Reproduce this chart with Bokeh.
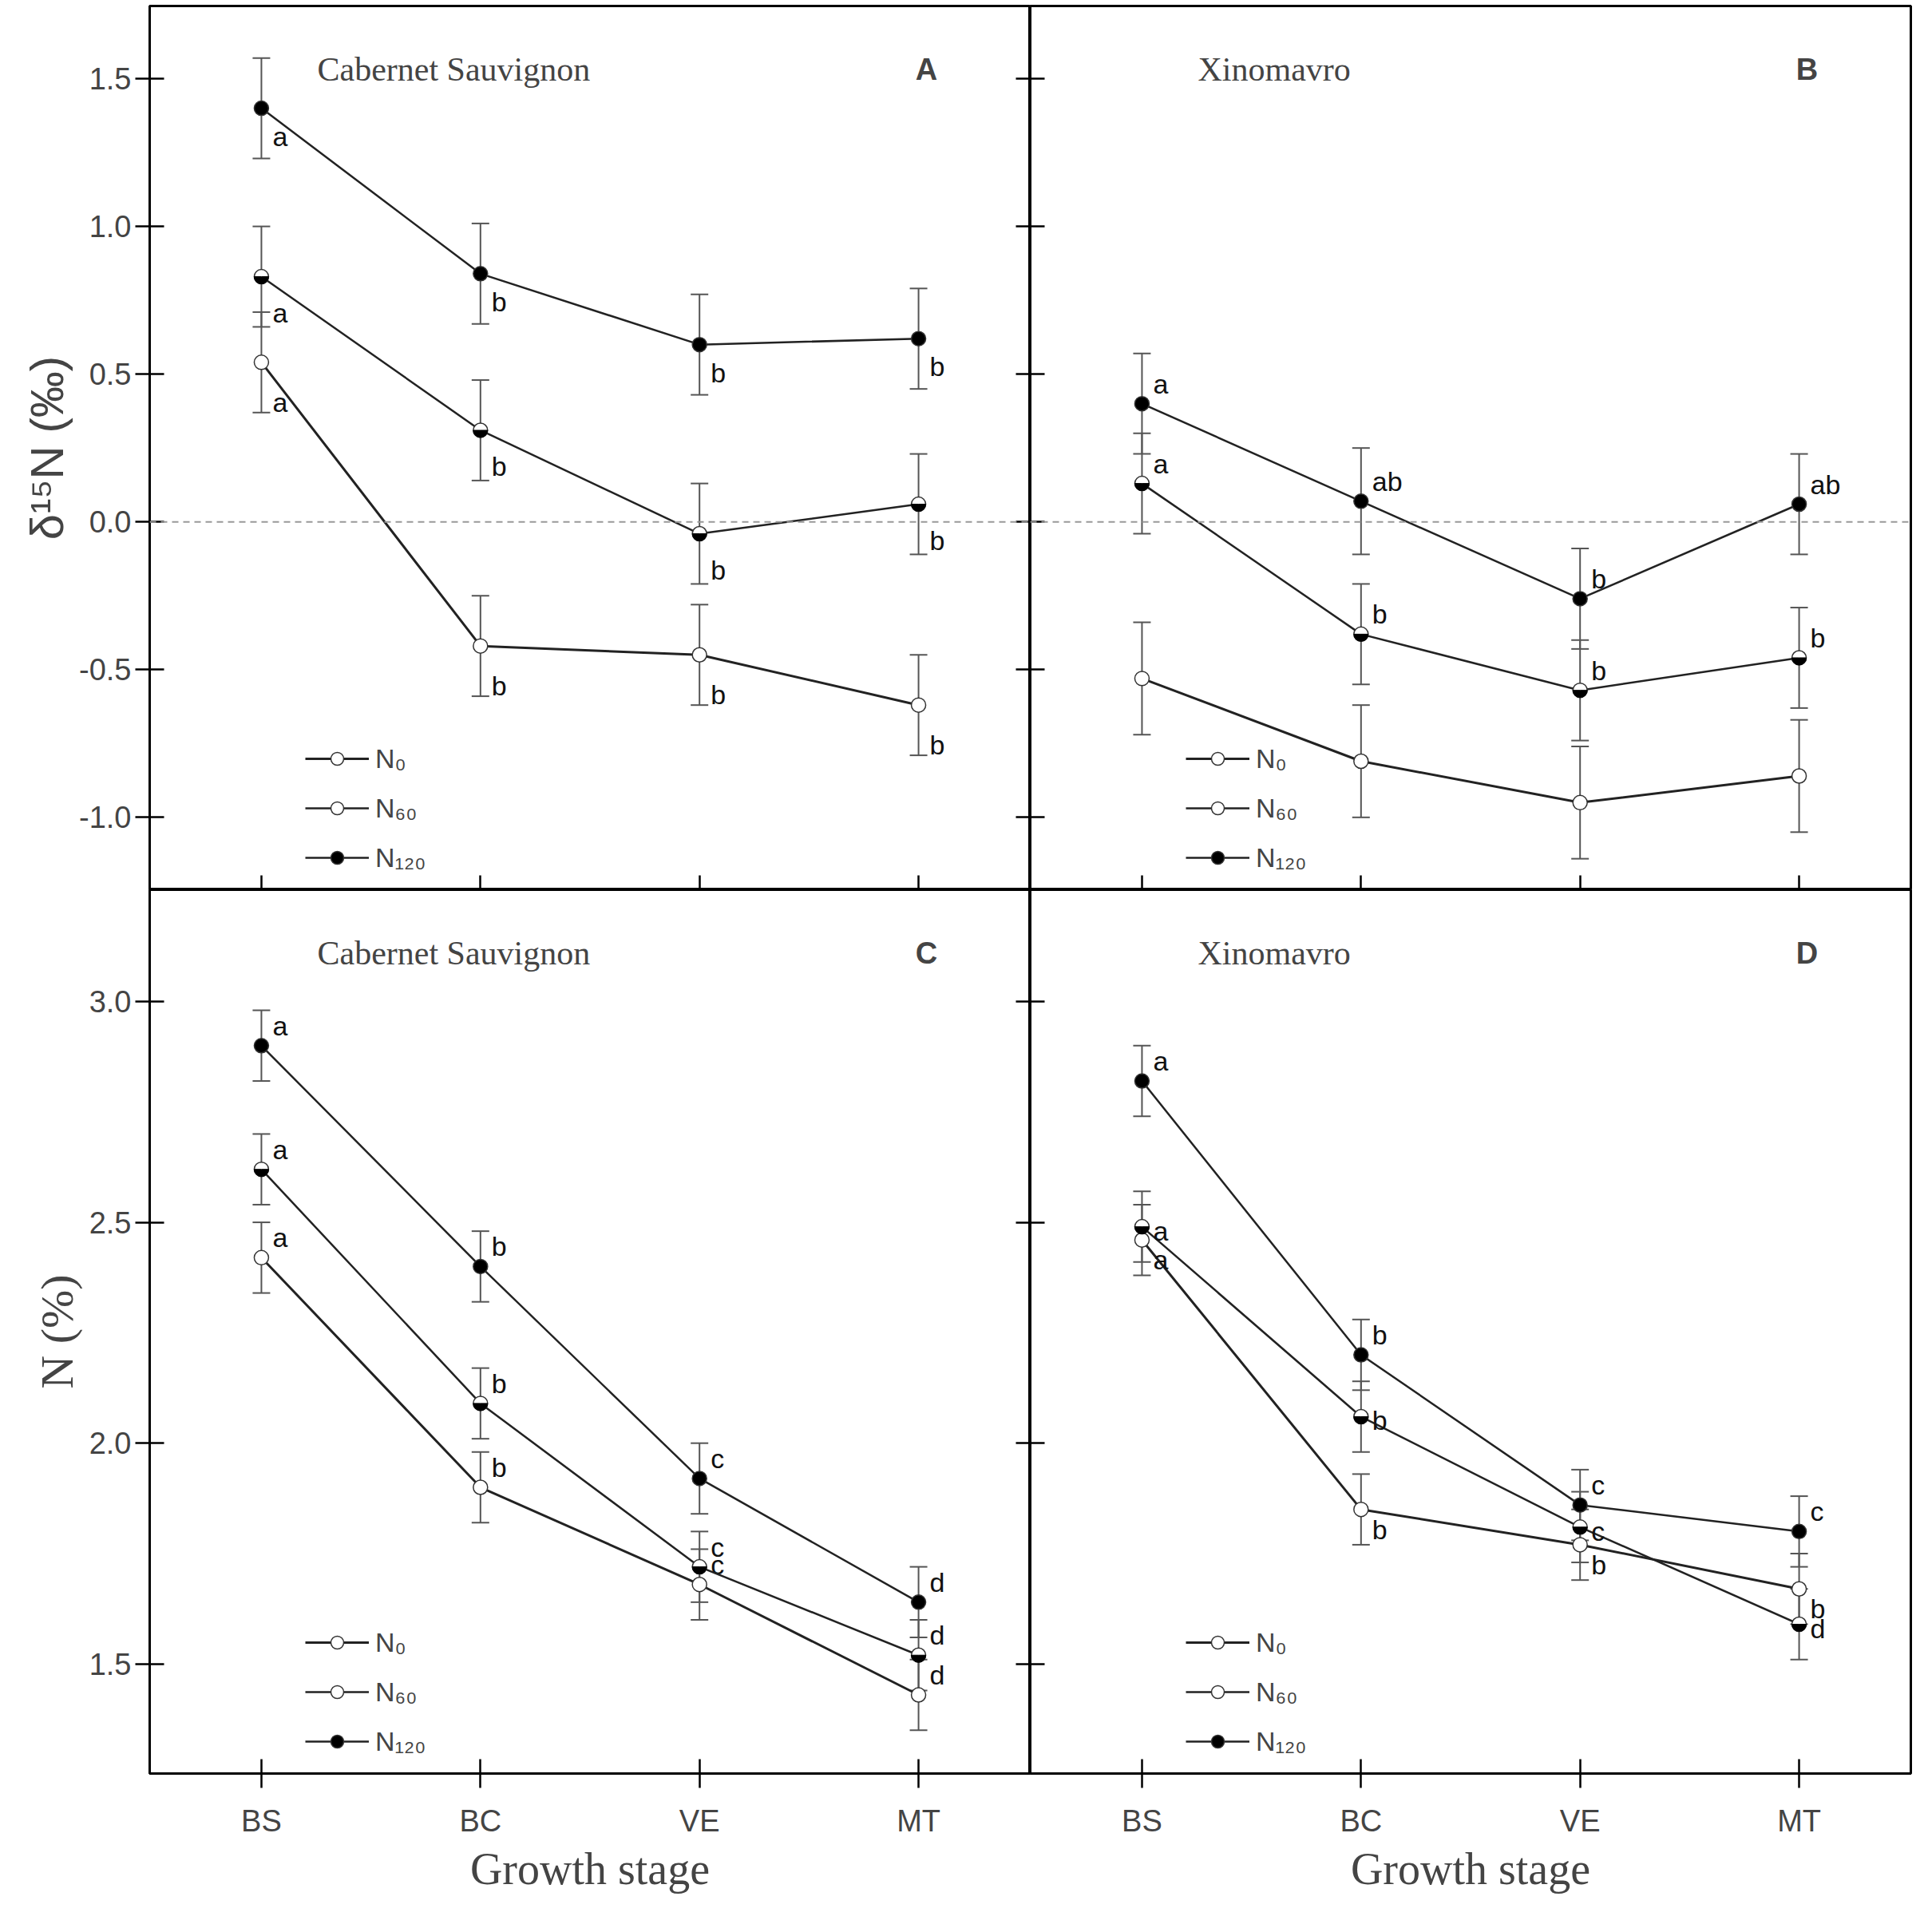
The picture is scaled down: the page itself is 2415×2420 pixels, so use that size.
from bokeh.plotting import figure
from bokeh.layouts import gridplot
from bokeh.models import (ColumnDataSource, Whisker, Span, Label, Legend, LegendItem,
                          LinearAxis, FixedTicker, NumeralTickFormatter, Range1d)
from bokeh.embed import file_html
from bokeh.resources import INLINE

stages = ["BS", "BC", "VE", "MT"]
xs = [1, 2, 3, 4]

A_N0 = [0.54, -0.42, -0.45, -0.62]; A_N60 = [0.83, 0.31, -0.04, 0.06]; A_N120 = [1.40, 0.84, 0.60, 0.62]
A_err = [[0.17]*4, [0.17]*4, [0.17]*4]
B_N0 = [-0.53, -0.81, -0.95, -0.86]; B_N60 = [0.13, -0.38, -0.57, -0.46]; B_N120 = [0.40, 0.07, -0.26, 0.06]
B_err = [[0.19]*4, [0.17]*4, [0.17, 0.18, 0.17, 0.17]]
C_N0 = [2.42, 1.90, 1.68, 1.43]; C_N60 = [2.62, 2.09, 1.72, 1.52]; C_N120 = [2.90, 2.40, 1.92, 1.64]
C_err = [[0.08]*4, [0.08]*4, [0.08]*4]
D_N0 = [2.46, 1.85, 1.77, 1.67]; D_N60 = [2.49, 2.06, 1.81, 1.59]; D_N120 = [2.82, 2.20, 1.86, 1.80]
D_err = [[0.08]*4, [0.08]*4, [0.08]*4]

A_let = [["a", "b", "b", "b"], ["a", "b", "b", "b"], ["a", "b", "b", "b"]]
B_let = [["", "", "", ""], ["a", "b", "b", "b"], ["a", "ab", "b", "ab"]]
C_let = [["a", "b", "c", "d"], ["a", "b", "c", "d"], ["a", "b", "c", "d"]]
D_let = [["a", "b", "b", "b"], ["a", "b", "c", "d"], ["a", "b", "c", "c"]]
A_off = [-50, -45, -35]; B_off = [0, 25, 25]; C_off = [25, 25, 25]; D_off = [-25, -5, 25]

FRAME_W, FRAME_H = 1103, 1107
SERIF = "Liberation Serif"; SANS = "Liberation Sans"

def panel(name, letter, ys, errs, lets, offs, yr, yticks, left, bottom, top):
    bl = 187 if left else 0
    bb = 179 if bottom else 0
    bt = 7 if top else 0
    br = 10 if not left else 0
    p = figure(width=FRAME_W + bl + br, height=FRAME_H + bb + bt, output_backend="svg",
               toolbar_location=None, x_range=Range1d(0.49, 4.51), y_range=Range1d(*yr),
               min_border_left=bl, min_border_right=br, min_border_bottom=bb, min_border_top=bt)
    p.grid.visible = False
    p.outline_line_color = "black"; p.outline_line_width = 3
    xa = p.xaxis[0]
    xa.ticker = FixedTicker(ticks=xs)
    xa.major_label_overrides = {i + 1: s for i, s in enumerate(stages)}
    xa.minor_tick_line_color = None
    xa.axis_line_width = 3; xa.major_tick_line_width = 2.5
    xa.major_tick_in = 18; xa.major_tick_out = 18 if bottom else 0
    if bottom:
        xa.major_label_text_font = SANS; xa.major_label_text_font_size = "38px"
        xa.axis_label = "Growth stage"; xa.axis_label_text_font = SERIF
        xa.axis_label_text_font_size = "56px"; xa.axis_label_text_font_style = "normal"
        xa.major_label_standoff = 20
    else:
        xa.major_label_text_font_size = "0px"; xa.major_label_standoff = 0
    ya = p.yaxis[0]
    ya.ticker = FixedTicker(ticks=yticks, minor_ticks=[])
    ya.formatter = NumeralTickFormatter(format="0.0")
    ya.axis_line_width = 3; ya.major_tick_line_width = 2.5
    ya.major_tick_in = 18; ya.major_tick_out = 18 if left else 0
    if left:
        ya.major_label_text_font = SANS; ya.major_label_text_font_size = "38px"
        ya.axis_label_text_font_size = "58px"; ya.axis_label_text_font_style = "normal"
    else:
        ya.major_label_text_font_size = "0px"; ya.major_label_standoff = 0
    if left:
        ra = LinearAxis(ticker=FixedTicker(ticks=yticks, minor_ticks=[]), major_label_text_font_size="0px",
                        major_tick_in=18, major_tick_out=0, axis_line_width=3, major_tick_line_width=2.5,
                        major_label_standoff=0)
        p.add_layout(ra, "right")
    if top and yr[0] < 0:
        p.add_layout(Span(location=0, dimension="width", line_color="#999999", line_dash="8 6", line_width=2))
    p.add_layout(Label(x=210, y=FRAME_H - 79, x_units="screen", y_units="screen", text=name,
                       text_font=SERIF, text_font_size="42px", text_baseline="middle"))
    p.add_layout(Label(x=973, y=FRAME_H - 79, x_units="screen", y_units="screen", text=letter,
                       text_font=SANS, text_font_size="38px", text_font_style="bold",
                       text_baseline="middle", text_align="center"))
    items = []
    names = ["N₀", "N₆₀", "N₁₂₀"]
    for k in range(3):
        y = ys[k]; e = errs[k]
        src = ColumnDataSource(dict(x=xs, y=y, lo=[a - b for a, b in zip(y, e)],
                                    hi=[a + b for a, b in zip(y, e)], lab=lets[k]))
        w = Whisker(source=src, base="x", lower="lo", upper="hi", line_color="#555555", line_width=2)
        w.upper_head.size = 22; w.lower_head.size = 22
        w.upper_head.line_color = "#555555"; w.lower_head.line_color = "#555555"
        w.upper_head.line_width = 2; w.lower_head.line_width = 2
        p.add_layout(w)
        r1 = p.line("x", "y", source=src, line_color="#222222", line_width=2.5 if k else 3)
        r2 = p.scatter("x", "y", source=src, size=18, marker="circle",
                       fill_color="black" if k == 2 else "white", line_color="#333333", line_width=1.5)
        if k == 1:
            p.wedge("x", "y", source=src, radius=9, radius_units="screen", start_angle=3.14159,
                    end_angle=6.28318, fill_color="black", line_color="black")
        p.text("x", "y", text="lab", source=src, x_offset=14, y_offset=-offs[k],
               text_font_size="34px", text_font={"value": SANS}, text_baseline="middle", text_color="#111111")
        items.append(LegendItem(label=names[k], renderers=[r1, r2]))
    lg = Legend(items=items, location=(195, 20), background_fill_alpha=0, border_line_alpha=0,
                label_text_font=SANS, label_text_font_size="34px", glyph_width=80, glyph_height=40,
                spacing=22, padding=0, label_standoff=8)
    p.add_layout(lg, "center")
    return p

yt_top = [-1.0, -0.5, 0.0, 0.5, 1.0, 1.5]
yt_bot = [1.5, 2.0, 2.5, 3.0]
a = panel("Cabernet Sauvignon", "A", [A_N0, A_N60, A_N120], A_err, A_let, A_off, (-1.245, 1.746), yt_top, True, False, True)
b = panel("Xinomavro", "B", [B_N0, B_N60, B_N120], B_err, B_let, B_off, (-1.245, 1.746), yt_top, False, False, True)
c = panel("Cabernet Sauvignon", "C", [C_N0, C_N60, C_N120], C_err, C_let, C_off, (1.252, 3.253), yt_bot, True, True, False)
d = panel("Xinomavro", "D", [D_N0, D_N60, D_N120], D_err, D_let, D_off, (1.252, 3.253), yt_bot, False, True, False)
a.yaxis[0].axis_label = "δ¹⁵N (‰)"; a.yaxis[0].axis_label_text_font = SANS
c.yaxis[0].axis_label = "N (%)"; c.yaxis[0].axis_label_text_font = SERIF

g = gridplot([[a, b], [c, d]], toolbar_location=None)
open("out.html", "w").write(file_html(g, INLINE))
